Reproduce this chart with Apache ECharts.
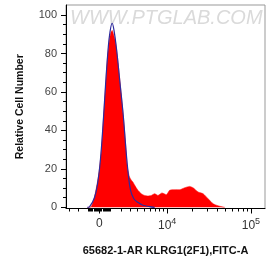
<!DOCTYPE html>
<html><head><meta charset="utf-8">
<script src="https://cdn.jsdelivr.net/npm/echarts@6/dist/echarts.min.js"></script>
<style>html,body{margin:0;padding:0;background:#fff}#c{width:267px;height:262px}</style>
</head><body><div id="c"></div>
<script>
// histogram positions are in display (biexponential) units
const redX = [-0.142,-0.098,-0.059,-0.020,0,0.024,0.047,0.071,0.095,0.118,0.136,0.150,0.166,0.190,0.213,0.241,0.261,0.284,0.312,0.329,0.355,0.379,0.395,0.415,0.454,0.494,0.533,0.572,0.613,0.652,0.691,0.738,0.790,0.829,0.889,0.948,1.007,1.066,1.105,1.165,1.224,1.283,1.342,1.402,1.481];
const redY = [0,0.3,5.4,14,20,30,46,62,78,87,91,92,90,86,78,66,57,46,31,21,15.8,14,13.2,11.6,8.9,7.1,6.2,5.9,6.2,7.1,6.2,7.5,6.6,8.9,9.2,9.2,10.2,10.9,10.2,8.0,7.1,4.5,1.9,0.8,0];
const blueX = [-0.142,-0.118,-0.059,-0.020,0.012,0.047,0.071,0.103,0.124,0.150,0.172,0.201,0.241,0.281,0.312,0.335,0.367,0.406,0.454,0.513,0.592,0.652];
const blueY = [0,0.3,5,13,25,46,63,82.6,91,95.7,92,82.6,65.3,47.9,30.6,19.5,8.9,4.5,2.6,1.1,0.4,0];
const xMajorRaw = [0, 10000, 100000];
const xMajorLabels = ['0', '10^4', '10^5'];
const xMinorRaw = [-3000,-2000,-1000,-900,-800,-700,-600,-500,-400,-300,-200,-100,100,200,300,400,500,600,700,800,900,1000,2000,3000,4000,5000,6000,7000,8000,9000,20000,30000,40000,50000,60000,70000,80000,90000];
const yMajor = [0,20,40,60,80,100];
const yMinor = [5,10,15,25,30,35,45,50,55,65,70,75,85,90,95];
const yTitle = 'Relative Cell Number';
const xTitle = '65682-1-AR KLRG1(2F1),FITC-A';
const watermark = 'WWW.PTGLAB.COM';

function T(v){ return Math.asinh(v/3251)/Math.LN10; }
const XMIN = -0.395, XMAX = 1.955, YMIN = -0.6, YMAX = 105.2;
const majorPos = xMajorRaw.map(T);
function xLab(val){
  let best = 0;
  majorPos.forEach((p,i)=>{ if (Math.abs(p-val) < Math.abs(majorPos[best]-val)) best = i; });
  const s = xMajorLabels[best];
  if (s.indexOf('^') >= 0) { const pr = s.split('^'); return '{b|'+pr[0]+'}{s|'+pr[1]+'}'; }
  return '{b|'+s+'}';
}
const font = '"Liberation Sans", Arial, sans-serif';
const chart = echarts.init(document.getElementById('c'), null, {renderer:'canvas'});
chart.setOption({
  animation: false,
  backgroundColor: '#fff',
  grid: {left: 66, right: 2, top: 5, bottom: 53.5, show: true, borderColor: '#999', borderWidth: 1, backgroundColor: 'transparent'},
  graphic: [{type:'text', left: 70, top: 8, z: 0, style: {text: watermark, font: 'italic 20px ' + font, fill: '#dadada'}}],
  xAxis: [
    {type:'value', min: XMIN, max: XMAX, position:'bottom',
     axisLine:{show:true, onZero:false, lineStyle:{color:'#000', width:1}},
     axisTick:{show:true, customValues: majorPos, length:5, lineStyle:{color:'#000'}},
     axisLabel:{customValues: majorPos, formatter: xLab, margin: 9,
       rich:{b:{fontSize:12, color:'#333', fontFamily: font}, s:{fontSize:9, color:'#333', fontFamily: font, padding:[0,0,8,0]}}},
     splitLine:{show:false},
     name: xTitle, nameLocation:'middle', nameGap: 37,
     nameTextStyle:{fontWeight:'bold', fontSize:11, color:'#111', fontFamily: font}},
    {type:'value', min: XMIN, max: XMAX, position:'bottom', offset: 0,
     axisLine:{show:false, onZero:false}, axisTick:{show:true, customValues: xMinorRaw.map(T), length:3, lineStyle:{color:'#000'}},
     axisLabel:{show:false}, splitLine:{show:false}}
  ],
  yAxis: [
    {type:'value', min: YMIN, max: YMAX, position:'left',
     axisLine:{show:true, onZero:false, lineStyle:{color:'#000', width:1}},
     axisTick:{show:true, customValues: yMajor, length:5, lineStyle:{color:'#000'}},
     axisLabel:{customValues: yMajor, fontSize:11, color:'#444', fontFamily: font, margin: 9},
     splitLine:{show:false},
     name: yTitle, nameLocation:'middle', nameGap: 40, nameRotate: 90,
     nameTextStyle:{fontWeight:'bold', fontSize:10.5, color:'#111', fontFamily: font}},
    {type:'value', min: YMIN, max: YMAX, position:'left', offset: 0,
     axisLine:{show:false, onZero:false}, axisTick:{show:true, customValues: yMinor, length:3, lineStyle:{color:'#000'}},
     axisLabel:{show:false}, splitLine:{show:false}}
  ],
  series: [
    {type:'line', xAxisIndex:0, yAxisIndex:0, data: redX.map((x,i)=>[x, redY[i]]), showSymbol:false, smooth:0.2,
     lineStyle:{width:0.5, color:'#ff0000'}, areaStyle:{color:'#ff0000', opacity:1}, z:2},
    {type:'line', xAxisIndex:0, yAxisIndex:0, data: blueX.map((x,i)=>[x, blueY[i]]), showSymbol:false, smooth:0.4,
     lineStyle:{width:1.2, color:'#2e2a9c'}, z:3}
  ]
});
</script></body></html>
